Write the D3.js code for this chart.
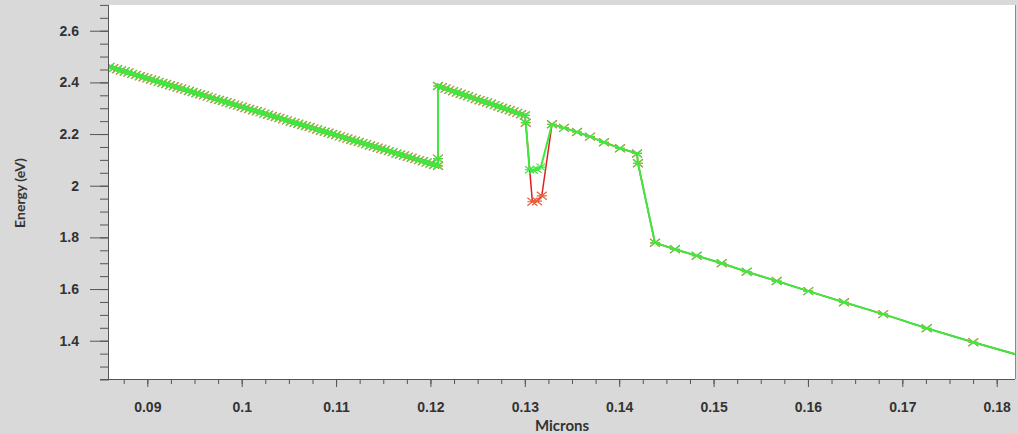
<!DOCTYPE html>
<html>
<head>
<meta charset="utf-8">
<script src="https://cdn.jsdelivr.net/npm/d3@7"></script>
<style>
  body { margin: 0; background: #d9d9d9; }
  svg { display: block; font-family: Lato, 'Open Sans', sans-serif; }
  .axis text { font-size: 14px; font-weight: bold; fill: #333; }
  .axis path, .axis line { stroke: #555; }
  .label { font-size: 14px; font-weight: bold; fill: #333; }
</style>
</head>
<body>
<div id="chart"></div>
<script>
// left branch, dense sampling
const leftMicrons = [0.0860, 0.0864, 0.0868, 0.0872, 0.0876, 0.0880, 0.0884, 0.0888, 0.0892, 0.0896,
  0.0900, 0.0904, 0.0908, 0.0912, 0.0916, 0.0920, 0.0924, 0.0928, 0.0932, 0.0936,
  0.0940, 0.0944, 0.0948, 0.0952, 0.0956, 0.0960, 0.0964, 0.0968, 0.0972, 0.0976,
  0.0980, 0.0984, 0.0988, 0.0992, 0.0996, 0.1000, 0.1004, 0.1008, 0.1012, 0.1016,
  0.1020, 0.1024, 0.1028, 0.1032, 0.1036, 0.1040, 0.1044, 0.1048, 0.1052, 0.1056,
  0.1060, 0.1064, 0.1068, 0.1072, 0.1076, 0.1080, 0.1084, 0.1088, 0.1092, 0.1096,
  0.1100, 0.1104, 0.1108, 0.1112, 0.1116, 0.1120, 0.1124, 0.1128, 0.1132, 0.1136,
  0.1140, 0.1144, 0.1148, 0.1152, 0.1156, 0.1160, 0.1164, 0.1168, 0.1172, 0.1176,
  0.1180, 0.1184, 0.1188, 0.1192, 0.1196, 0.1200, 0.1204, 0.1208]
const leftEnergy = [2.460, 2.455, 2.451, 2.446, 2.442, 2.438, 2.433, 2.429, 2.424, 2.420,
  2.416, 2.411, 2.407, 2.402, 2.398, 2.394, 2.389, 2.385, 2.380, 2.376,
  2.372, 2.367, 2.363, 2.358, 2.354, 2.350, 2.345, 2.341, 2.336, 2.332,
  2.328, 2.323, 2.319, 2.314, 2.310, 2.306, 2.301, 2.297, 2.292, 2.288,
  2.284, 2.279, 2.275, 2.270, 2.266, 2.262, 2.257, 2.253, 2.248, 2.244,
  2.240, 2.235, 2.231, 2.227, 2.222, 2.218, 2.213, 2.209, 2.205, 2.200,
  2.196, 2.191, 2.187, 2.183, 2.178, 2.174, 2.169, 2.165, 2.161, 2.156,
  2.152, 2.147, 2.143, 2.139, 2.134, 2.130, 2.125, 2.121, 2.117, 2.112,
  2.108, 2.103, 2.099, 2.095, 2.090, 2.086, 2.081, 2.077]

// jump and upper branch
const midMicrons = [0.1208, 0.1208, 0.1212, 0.1216, 0.1220, 0.1224, 0.1228, 0.1232, 0.1236, 0.1240,
  0.1244, 0.1248, 0.1252, 0.1256, 0.1260, 0.1264, 0.1268, 0.1272, 0.1276, 0.1280,
  0.1284, 0.1288, 0.1292, 0.1296, 0.1300, 0.1301]
const midEnergy = [2.105, 2.386, 2.381, 2.376, 2.371, 2.366, 2.361, 2.356, 2.351, 2.346,
  2.341, 2.336, 2.331, 2.327, 2.322, 2.317, 2.312, 2.307, 2.302, 2.297,
  2.292, 2.287, 2.282, 2.277, 2.272, 2.244]

// the dip, where the two curves differ
const dipMicronsRed = [0.1308, 0.1313, 0.1318]
const dipEnergyRed = [1.938, 1.940, 1.961]
const dipMicronsGreen = [0.1305, 0.1309, 0.1313, 0.1317]
const dipEnergyGreen = [2.062, 2.060, 2.064, 2.072]

// right side, sparse sampling
const rightMicrons = [0.13288, 0.13415, 0.13553, 0.13691, 0.13839, 0.14009, 0.14189, 0.14199,
  0.14379, 0.14591, 0.14821, 0.15086, 0.15351, 0.15669, 0.16004, 0.16382,
  0.16798, 0.17258, 0.17752, 0.18300]
const rightEnergy = [2.238, 2.224, 2.208, 2.190, 2.168, 2.145, 2.125, 2.087,
  1.779, 1.754, 1.729, 1.700, 1.667, 1.631, 1.592, 1.549,
  1.503, 1.448, 1.394, 1.337]

const xTicks = [0.09, 0.1, 0.11, 0.12, 0.13, 0.14, 0.15, 0.16, 0.17, 0.18]
const yTicks = [1.4, 1.6, 1.8, 2, 2.2, 2.4, 2.6]

function pts(xs, ys) {
  return xs.map((x, i) => ({ x, y: ys[i] }))
}

const redSeries = pts(leftMicrons, leftEnergy)
  .concat(pts(midMicrons, midEnergy))
  .concat(pts(dipMicronsRed, dipEnergyRed))
  .concat(pts(rightMicrons, rightEnergy))
const greenSeries = pts(leftMicrons, leftEnergy)
  .concat(pts(midMicrons, midEnergy))
  .concat(pts(dipMicronsGreen, dipEnergyGreen))
  .concat(pts(rightMicrons, rightEnergy))

const W = 1018
const H = 434
const margin = { top: 5, right: 3, bottom: 55, left: 109 }
const width = W - margin.left - margin.right
const height = H - margin.top - margin.bottom

const x = d3.scaleLinear().domain([0.08594, 0.18194]).range([0, width])
const y = d3.scaleLinear().domain([1.2518, 2.6996]).range([height, 0])

const svg = d3.select('#chart').append('svg')
  .attr('width', W)
  .attr('height', H)

svg.append('rect').attr('width', W).attr('height', H).attr('fill', '#d9d9d9')

const g = svg.append('g')
  .attr('transform', 'translate(' + margin.left + ',' + margin.top + ')')

g.append('rect')
  .attr('width', width)
  .attr('height', height)
  .attr('fill', '#fff')

g.append('line')
  .attr('x1', width + 0.5).attr('x2', width + 0.5)
  .attr('y1', 0).attr('y2', height)
  .attr('stroke', '#8a8a8a')

svg.append('clipPath').attr('id', 'clip')
  .append('rect').attr('width', width).attr('height', height)

// minor ticks first, then labelled majors
const xMinor = d3.range(0.0875, 0.1820, 0.0025)
const yMinor = d3.range(1.25, 2.701, 0.05)

g.append('g').attr('class', 'axis')
  .attr('transform', 'translate(0,' + height + ')')
  .call(d3.axisBottom(x).tickValues(xMinor).tickSize(5).tickFormat(''))
  .call(a => a.select('.domain').remove())

g.append('g').attr('class', 'axis')
  .call(d3.axisLeft(y).tickValues(yMinor).tickSize(9).tickFormat(''))
  .call(a => a.select('.domain').remove())

g.append('g').attr('class', 'axis axis--x')
  .attr('transform', 'translate(0,' + height + ')')
  .call(d3.axisBottom(x).tickValues(xTicks).tickSize(8).tickPadding(15)
    .tickFormat(d => String(+d.toFixed(2))).tickSizeOuter(0))
  .call(a => a.select('.domain').attr('d', 'M-9,0.5H' + width))

g.append('g').attr('class', 'axis axis--y')
  .call(d3.axisLeft(y).tickValues(yTicks).tickSize(19).tickPadding(11)
    .tickFormat(d => String(+d.toFixed(1))).tickSizeOuter(0))
  .call(a => a.select('.domain').attr('d', 'M-0.5,0V' + height))

svg.append('text').attr('class', 'label')
  .attr('x', 562).attr('y', 431)
  .attr('text-anchor', 'middle')
  .style('font-size', '15px')
  .text('Microns')

svg.append('text').attr('class', 'label')
  .attr('transform', 'translate(25,193) rotate(-90)')
  .attr('text-anchor', 'middle')
  .text('Energy (eV)')

const plot = g.append('g').attr('clip-path', 'url(#clip)')

const line = d3.line().x(d => x(d.x)).y(d => y(d.y))

function cross(w, h) {
  return 'M' + -w + ',' + -h + 'L' + w + ',' + h +
    'M' + -w + ',' + h + 'L' + w + ',' + -h +
    'M' + -w + ',0H' + w
}

function drawSeries(data, color, lw, mw, mh, mcolor) {
  plot.append('path')
    .datum(data)
    .attr('fill', 'none')
    .attr('stroke', color)
    .attr('stroke-width', lw)
    .attr('d', line)
  plot.append('g').selectAll('path')
    .data(data)
    .enter()
    .append('path')
    .attr('transform', d => 'translate(' + x(d.x) + ',' + y(d.y) + ')')
    .attr('d', cross(mw, mh))
    .attr('fill', 'none')
    .attr('stroke', mcolor)
    .attr('stroke-width', 1.2)
}

drawSeries(redSeries, '#e01e1e', 1.5, 5, 4, '#e8603a')
drawSeries(greenSeries, '#3fe83f', 2, 4.5, 3.5, '#3fe83f')
</script>
</body>
</html>
